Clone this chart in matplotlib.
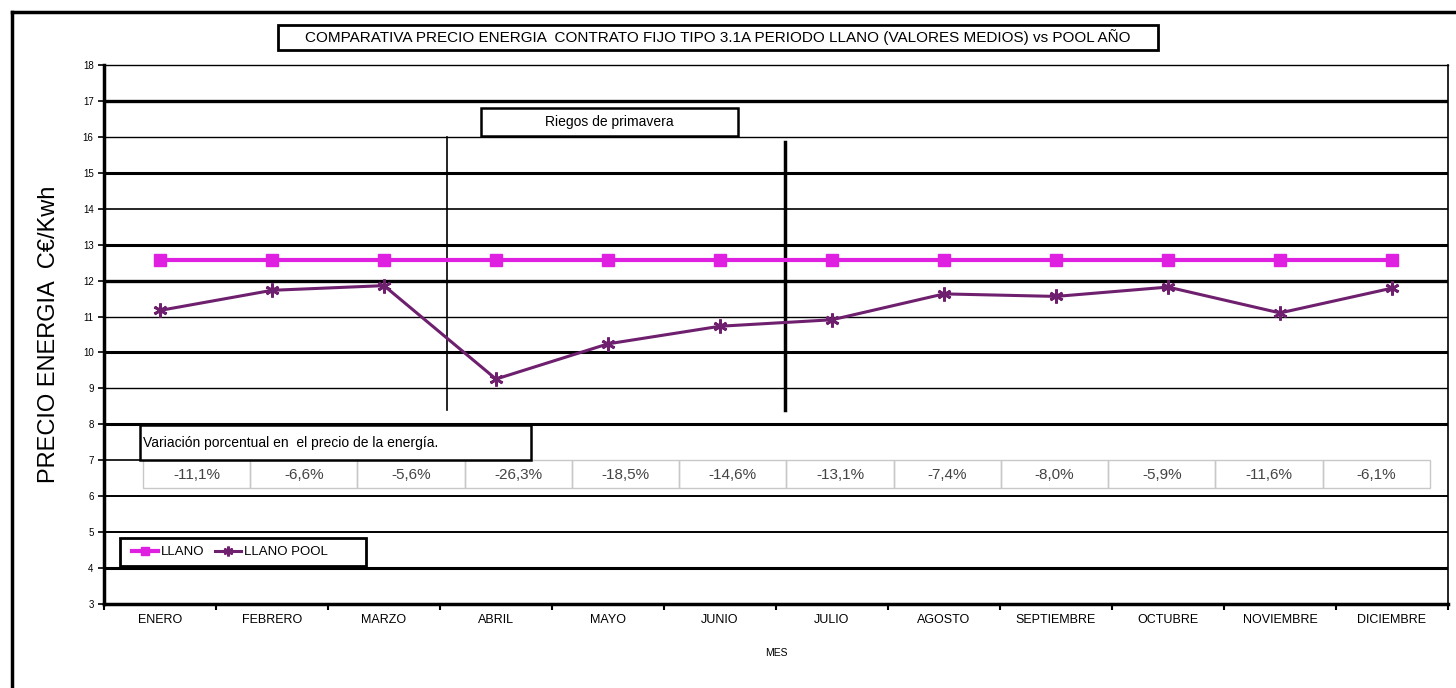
import numpy as np
import matplotlib
matplotlib.use("Agg")
import matplotlib.pyplot as plt
import matplotlib.transforms as mtransforms
from matplotlib.patches import Rectangle
from matplotlib.lines import Line2D

plt.rcParams['font.family'] = ['Liberation Sans', 'DejaVu Sans']

# ==============================
# DATOS
# ==============================
meses = ["ENERO", "FEBRERO", "MARZO", "ABRIL", "MAYO", "JUNIO", "JULIO",
         "AGOSTO", "SEPTIEMBRE", "OCTUBRE", "NOVIEMBRE", "DICIEMBRE"]
llano = [12.56, 12.56, 12.56, 12.56, 12.56, 12.56, 12.56,
         12.56, 12.56, 12.56, 12.56, 12.56]
llano_pool = [11.17, 11.73, 11.86, 9.26, 10.24, 10.73, 10.91,
              11.63, 11.56, 11.82, 11.10, 11.79]
variacion = ["-11,1%", "-6,6%", "-5,6%", "-26,3%", "-18,5%", "-14,6%",
             "-13,1%", "-7,4%", "-8,0%", "-5,9%", "-11,6%", "-6,1%"]
y_ticks = list(range(3, 19))
# grosor de las lineas horizontales (valor -> ancho)
grid_width = {4: 2.2, 5: 1.4, 6: 1.4, 8: 2.2, 9: 1.0, 10: 2.2, 11: 1.0,
              12: 2.4, 13: 2.2, 14: 1.2, 15: 2.2, 16: 1.0, 17: 2.4}

W, H = 1456, 688
fig = plt.figure(figsize=(W / 100, H / 100), dpi=100)


def px(x, y):
    # pixeles (origen arriba-izquierda) -> fraccion de figura
    return x / W, 1 - y / H


# marco exterior del grafico
fig.add_artist(Line2D([12 / W, 1], [1 - 12 / H] * 2, color="black", lw=2.5))
fig.add_artist(Line2D([12 / W] * 2, [0, 1 - 12 / H], color="black", lw=2.5))

left, top = px(104, 65)
right, bottom = px(1448, 604)
ax = fig.add_axes([left, bottom, right - left, top - bottom])

x = np.arange(len(meses))
ax.set_xlim(-0.5, len(meses) - 0.5)
ax.set_ylim(3, 18)

for v, lw in grid_width.items():
    ax.axhline(v, color="black", lw=lw, zorder=1)

ax.plot(x, llano, color="#e020e0", lw=3, marker="s", ms=8.5,
        mec="#e020e0", mfc="#e020e0", label="LLANO", zorder=4)
ax.plot(x, llano_pool, color="#6e1f6e", lw=2.2, marker=(6, 2, 0), ms=10,
        mew=2, label="LLANO POOL", zorder=4)

# lineas verticales de riegos de primavera
ax.plot([2.56, 2.56], [8.4, 16.0], color="black", lw=1.2, zorder=3)
ax.plot([5.58, 5.58], [8.4, 15.85], color="black", lw=2.5, zorder=3)

# tabla de variacion porcentual (x en fraccion de ejes, y en datos)
t0, t1 = 0.029, 0.9866
cw = (t1 - t0) / len(variacion)
ty0, ty1 = 6.22, 7.0
blend = mtransforms.blended_transform_factory(ax.transAxes, ax.transData)
for i, txt in enumerate(variacion):
    ax.add_patch(Rectangle((t0 + i * cw, ty0), cw, ty1 - ty0,
                           transform=blend, fill=False, ec="#c8c8c8",
                           lw=1, zorder=2))
    ax.text(t0 + (i + 0.5) * cw, 6.6, txt, transform=blend, ha="center",
            va="center", fontsize=11, color="#444444", zorder=3)

ax.set_xticks(np.arange(-0.5, len(meses), 1), minor=False)
ax.set_xticklabels([])
ax.set_xticks(x, minor=True)
ax.set_xticklabels(meses, minor=True, fontsize=9)
ax.tick_params(axis="x", which="minor", length=0, pad=7)
ax.tick_params(axis="x", which="major", length=4, width=1.5, direction="out")
ax.set_yticks(y_ticks)
ax.set_yticklabels([str(t) for t in y_ticks], fontsize=7)
ax.tick_params(axis="y", length=4, width=1.2)

for s in ["left", "bottom"]:
    ax.spines[s].set_linewidth(2.5)
ax.spines["top"].set_linewidth(1.0)
ax.spines["right"].set_linewidth(1.2)

ax.set_xlabel("MES", fontsize=7.5, labelpad=16)
ax.set_ylabel("PRECIO ENERGIA  C€/Kwh", fontsize=17, labelpad=16)

# titulo en caja
fx0, fy0 = px(278, 50)
fx1, fy1 = px(1158, 25)
fig.add_artist(Rectangle((fx0, fy0), fx1 - fx0, fy1 - fy0, fill=False,
                         ec="black", lw=2, transform=fig.transFigure))
fig.text((fx0 + fx1) / 2, (fy0 + fy1) / 2,
         "COMPARATIVA PRECIO ENERGIA  CONTRATO FIJO TIPO 3.1A PERIODO LLANO "
         "(VALORES MEDIOS) vs POOL AÑO",
         ha="center", va="center", fontsize=11)

# caja riegos de primavera
rx0, ry0 = px(481, 136)
rx1, ry1 = px(738, 108)
fig.add_artist(Rectangle((rx0, ry0), rx1 - rx0, ry1 - ry0, fc="white",
                         ec="black", lw=1.8, transform=fig.transFigure,
                         zorder=5))
fig.text((rx0 + rx1) / 2, (ry0 + ry1) / 2, "Riegos de primavera",
         ha="center", va="center", fontsize=10, zorder=6)

# caja variacion porcentual
fig.add_artist(Line2D([104 / W, 140 / W], [1 - 460 / H] * 2, color="black",
                      lw=1.2, zorder=5))
vx0, vy0 = px(140, 460)
vx1, vy1 = px(531, 425)
fig.add_artist(Rectangle((vx0, vy0), vx1 - vx0, vy1 - vy0, fc="white",
                         ec="black", lw=1.8, transform=fig.transFigure,
                         zorder=5))
fig.text(vx0 + 3 / W, (vy0 + vy1) / 2,
         "Variación porcentual en  el precio de la energía.",
         ha="left", va="center", fontsize=10, zorder=6)

# leyenda
lx0, ly0 = px(120, 566)
lx1, ly1 = px(366, 538)
fig.add_artist(Rectangle((lx0, ly0), lx1 - lx0, ly1 - ly0, fc="white",
                         ec="black", lw=2, transform=fig.transFigure,
                         zorder=5))
leg = fig.legend(loc="center left", bbox_to_anchor=(lx0, (ly0 + ly1) / 2),
                 ncol=2, frameon=False, fontsize=9.5, handlelength=2,
                 columnspacing=0.8, handletextpad=0.2, markerscale=0.7)
leg.set_zorder(6)

fig.savefig("out.png", dpi=100)
